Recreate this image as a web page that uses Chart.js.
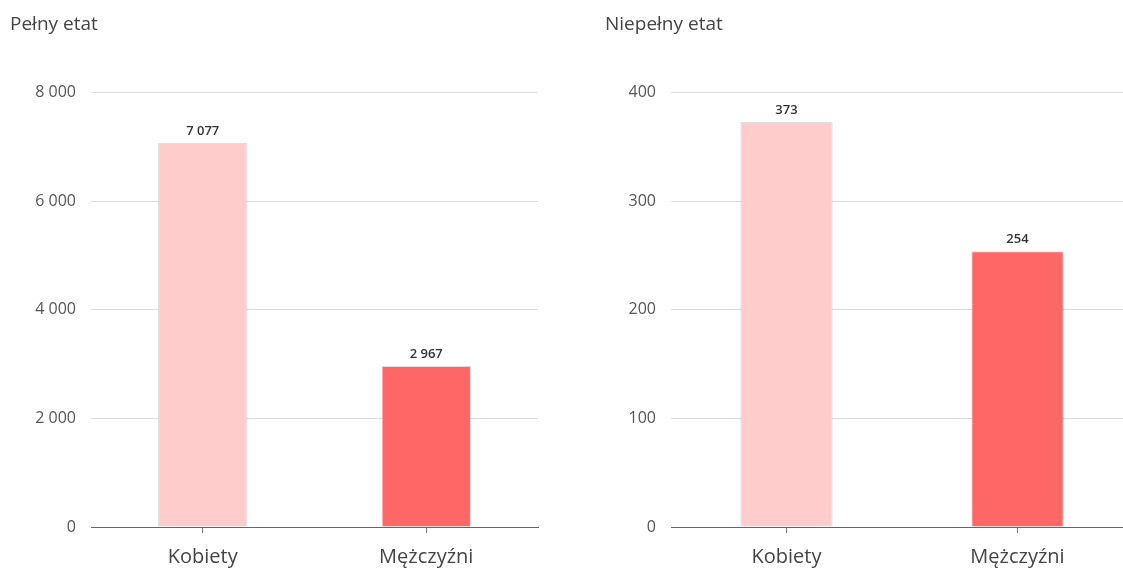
<!DOCTYPE html>
<html>
<head>
<meta charset="utf-8">
<script src="https://cdn.jsdelivr.net/npm/chart.js@4"></script>
<style>
  body { margin: 0; background: #fff; overflow: hidden; width: 1123px; height: 569px; position: relative; }
  .box { position: absolute; top: 0; height: 569px; }
</style>
</head>
<body>
<div class="box" style="left:0;width:560px"><canvas id="full"></canvas></div>
<div class="box" style="left:595px;width:538px"><canvas id="part"></canvas></div>
<script>
let categories = ["Kobiety", "Mężczyźni"];
let fullTimeValues = [7077, 2967];
let partTimeValues = [373, 254];
let fullTimeTicks = [0, 2000, 4000, 6000, 8000];
let partTimeTicks = [0, 100, 200, 300, 400];
let barColors = ["#FFCCCC", "#FF6666"];

function fmt(n) {
    return String(n).replace(/\B(?=(\d{3})+(?!\d))/g, " ");
}

// value labels above bars
let valueLabels = {
    id: "valueLabels",
    afterDatasetsDraw(chart) {
        let ctx = chart.ctx;
        let meta = chart.getDatasetMeta(0);
        ctx.save();
        ctx.font = "600 13px 'Open Sans'";
        ctx.fillStyle = "#333";
        ctx.textAlign = "center";
        ctx.textBaseline = "bottom";
        meta.data.forEach((bar, i) => {
            ctx.fillText(fmt(chart.data.datasets[0].data[i]), bar.x, bar.y - 5);
        });
        ctx.restore();
    }
};

function makeChart(id, title, values, ticks, yWidth, padRight) {
    let ctx = document.getElementById(id).getContext("2d");
    return new Chart(ctx, {
        type: "bar",
        data: {
            labels: categories,
            datasets: [{
                data: values,
                backgroundColor: barColors,
                borderColor: "rgba(0,0,0,0.13)",
                borderWidth: 1,
                categoryPercentage: 1,
                barPercentage: 0.4
            }]
        },
        options: {
            responsive: true,
            maintainAspectRatio: false,
            animation: false,
            layout: { padding: { left: 10, right: padRight, top: 0, bottom: 0 } },
            plugins: {
                legend: { display: false },
                tooltip: { enabled: false },
                title: {
                    display: true,
                    text: title,
                    align: "start",
                    color: "#444",
                    font: { family: "'Open Sans'", size: 19, weight: "normal" },
                    padding: { top: 13, bottom: 57 }
                }
            },
            scales: {
                x: {
                    grid: {
                        offset: false,
                        drawOnChartArea: false,
                        tickLength: 6,
                        color: "#777"
                    },
                    border: { color: "#666", width: 1 },
                    ticks: {
                        color: "#444",
                        padding: 12,
                        font: { family: "'Open Sans'", size: 20 }
                    },
                    afterFit(scale) { scale.height = 42; }
                },
                y: {
                    min: 0,
                    max: ticks[ticks.length - 1],
                    afterBuildTicks(scale) {
                        scale.ticks = ticks.map(v => ({ value: v }));
                    },
                    grid: { color: "#dcdcdc", drawTicks: false },
                    border: { display: false },
                    ticks: {
                        color: "#555",
                        padding: 15,
                        font: { family: "'Open Sans'", size: 16 },
                        callback: v => fmt(v)
                    },
                    afterFit(scale) { scale.width = yWidth; }
                }
            }
        },
        plugins: [valueLabels]
    });
}

makeChart("full", "Pełny etat", fullTimeValues, fullTimeTicks, 81, 22);
makeChart("part", "Niepełny etat", partTimeValues, partTimeTicks, 66, 0);
</script>
</body>
</html>
